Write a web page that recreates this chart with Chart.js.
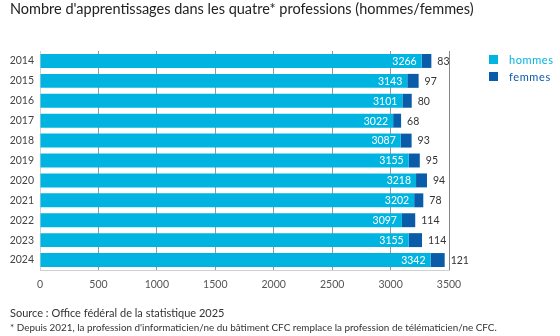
<!DOCTYPE html>
<html>
<head>
<meta charset="utf-8">
<script src="https://cdn.jsdelivr.net/npm/chart.js@4"></script>
<style>
  html, body { margin: 0; padding: 0; background: #fff; }
  #wrap { position: relative; width: 560px; height: 336px; font-family: Lato, sans-serif; }
  #wrap canvas { position: absolute; left: 0; top: 0; }
  .title { position: absolute; left: 10px; top: 0px; font-size: 14.5px; color: #222; }
  .source { position: absolute; left: 10px; top: 306px; font-size: 11px; color: #333; }
  .note { position: absolute; left: 10px; top: 321px; font-size: 9.9px; color: #333; }
  #legend { position: absolute; left: 489px; top: 51px; font-size: 11px; letter-spacing: 0.6px; }
  #legend div { height: 17px; display: flex; align-items: center; }
  #legend span.box { width: 9px; height: 9px; margin-right: 11px; display: inline-block; }
</style>
</head>
<body>
<div id="wrap">
  <canvas id="chart" width="560" height="336"></canvas>
  <div class="title">Nombre d'apprentissages dans les quatre* professions (hommes/femmes)</div>
  <div id="legend"></div>
  <div class="source">Source : Office fédéral de la statistique 2025</div>
  <div class="note">* Depuis 2021, la profession d'informaticien/ne du bâtiment CFC remplace la profession de télématicien/ne CFC.</div>
</div>
<script>
const years = ['2014', '2015', '2016', '2017', '2018', '2019', '2020', '2021', '2022', '2023', '2024']
const hommes = [3266, 3143, 3101, 3022, 3087, 3155, 3218, 3202, 3097, 3155, 3342]
const femmes = [83, 97, 80, 68, 93, 95, 94, 78, 114, 114, 121]
const xMax = 3500
const xStep = 500

const colorHommes = '#00b4e1'
const colorFemmes = '#0a5ba8'

// étiquettes de valeurs : blanc dans la barre hommes, gris après la barre femmes
const valueLabels = {
  id: 'valueLabels',
  afterDatasetsDraw(chart) {
    const ctx = chart.ctx
    ctx.save()
    ctx.font = '10.5px Lato, sans-serif'
    ctx.textBaseline = 'middle'
    chart.data.datasets.forEach((ds, i) => {
      const meta = chart.getDatasetMeta(i)
      meta.data.forEach((bar, j) => {
        if (i === 0) {
          ctx.fillStyle = '#fff'
          ctx.textAlign = 'right'
          ctx.fillText(ds.data[j], bar.x - 5, bar.y + 0.5)
        } else {
          ctx.fillStyle = '#333'
          ctx.textAlign = 'left'
          ctx.fillText(ds.data[j], bar.x + 6, bar.y + 0.5)
        }
      })
    })
    ctx.restore()
  }
}

const chart = new Chart(document.getElementById('chart'), {
  type: 'bar',
  data: {
    labels: years,
    datasets: [
      { label: 'hommes', data: hommes, backgroundColor: colorHommes, barPercentage: 0.7, categoryPercentage: 1 },
      { label: 'femmes', data: femmes, backgroundColor: colorFemmes, barPercentage: 0.7, categoryPercentage: 1 }
    ]
  },
  options: {
    indexAxis: 'y',
    responsive: false,
    animation: false,
    layout: { padding: { left: 0, right: 111, top: 51, bottom: 42 } },
    plugins: {
      legend: { display: false },
      tooltip: { enabled: false }
    },
    scales: {
      x: {
        stacked: true,
        min: 0,
        max: xMax,
        ticks: {
          stepSize: xStep,
          color: '#555',
          font: { family: 'Lato', size: 10.5 },
          padding: 8,
          maxRotation: 0,
          callback: v => String(v)
        },
        grid: {
          drawTicks: false,
          color: c => c.tick.value === xMax ? '#888' : (c.tick.value === 0 ? '#d0d0d0' : '#999'),
          lineWidth: 1
        },
        border: { display: true, color: '#d0d0d0' },
        afterFit: s => { s.height = 24 }
      },
      y: {
        stacked: true,
        grid: { display: false, drawTicks: false },
        border: { display: false },
        ticks: { color: '#444', font: { family: 'Lato', size: 10.5 }, padding: 6 },
        afterFit: s => { s.width = 40 }
      }
    }
  },
  plugins: [valueLabels]
})

// légende en HTML à partir des datasets
const legend = document.getElementById('legend')
chart.data.datasets.forEach(ds => {
  const row = document.createElement('div')
  row.style.color = ds.backgroundColor
  row.innerHTML = '<span class="box" style="background:' + ds.backgroundColor + '"></span>' + ds.label
  legend.appendChild(row)
})
</script>
</body>
</html>
